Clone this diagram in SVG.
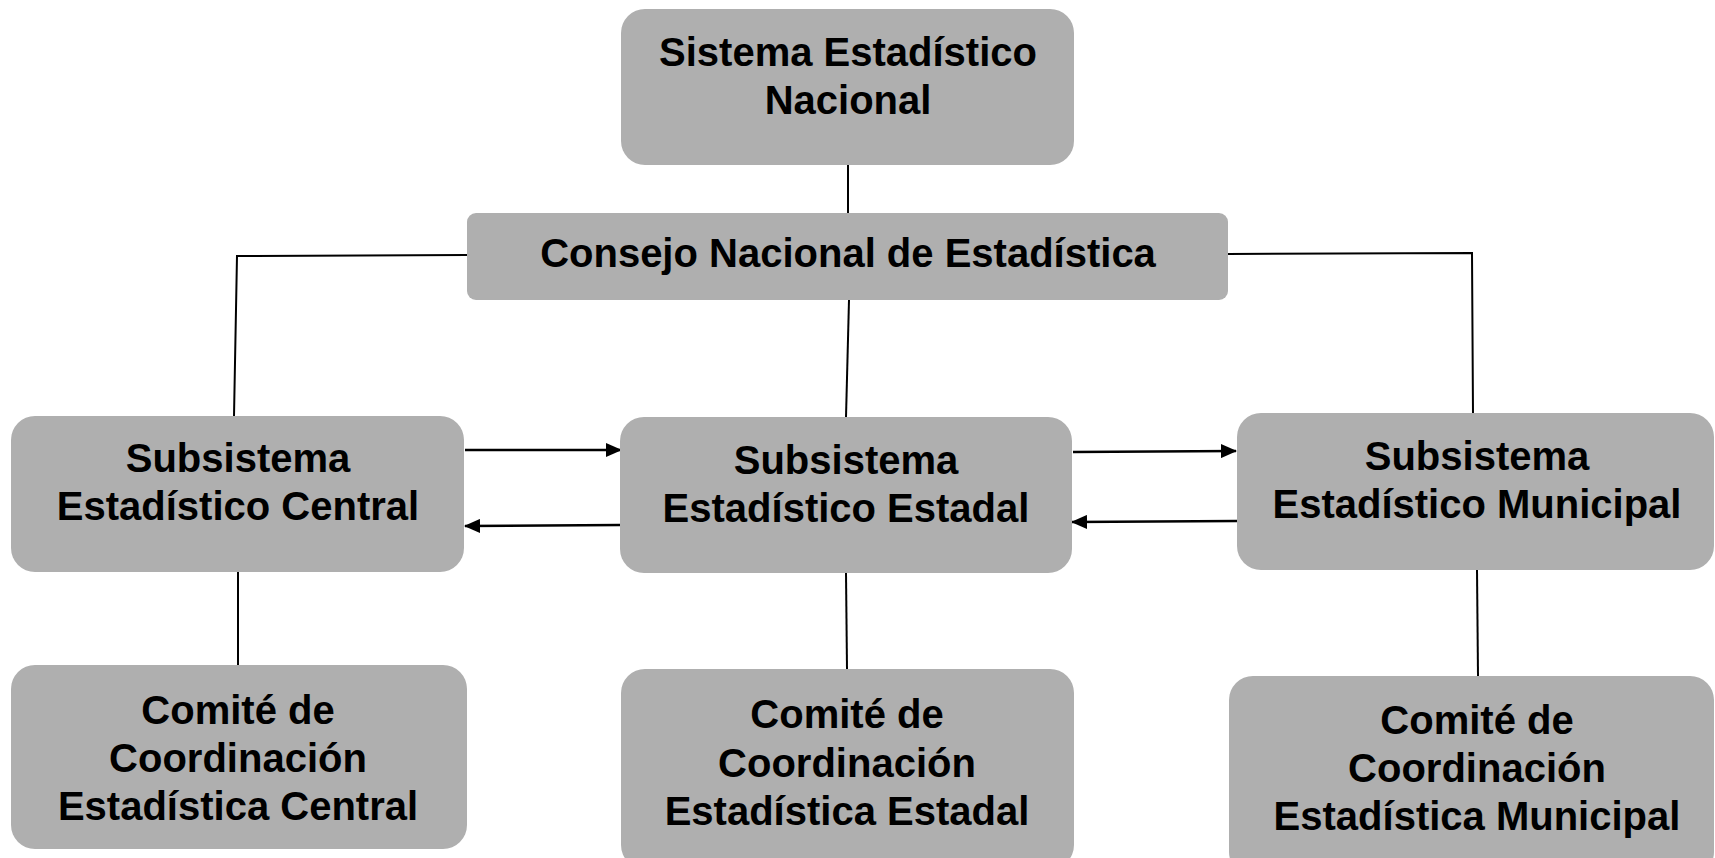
<svg xmlns="http://www.w3.org/2000/svg" width="1715" height="858" viewBox="0 0 1715 858">
<defs>
<marker id="ah" markerWidth="16" markerHeight="14" refX="15" refY="7" orient="auto" markerUnits="userSpaceOnUse">
<path d="M0,0 L16,7 L0,14 Z" fill="#000"/>
</marker>
<style>
.box{fill:#afafaf;}
.t{font-family:"Liberation Sans",Arial,sans-serif;font-weight:bold;font-size:40px;fill:#000;text-anchor:middle;}
.c{stroke:#000;stroke-width:2;fill:none;}
.a{stroke:#000;stroke-width:2.5;fill:none;}
</style>
</defs>
<rect width="1715" height="858" fill="#fff"/>
<g id="connectors">
<line class="c" x1="848" y1="165" x2="848" y2="213"/>
<line class="c" x1="849" y1="300" x2="846" y2="417"/>
<polyline class="c" points="467,255 237,256 234,416"/>
<polyline class="c" points="1228,254 1472,253 1473,413"/>
<line class="c" x1="238" y1="572" x2="238" y2="665"/>
<line class="c" x1="846" y1="573" x2="847" y2="669"/>
<line class="c" x1="1477" y1="570" x2="1478" y2="676"/>
<line class="a" x1="465" y1="450" x2="621" y2="450" marker-end="url(#ah)"/>
<line class="a" x1="620" y1="525" x2="465" y2="526" marker-end="url(#ah)"/>
<line class="a" x1="1073" y1="452" x2="1236" y2="451" marker-end="url(#ah)"/>
<line class="a" x1="1237" y1="521" x2="1072" y2="522" marker-end="url(#ah)"/>
</g>
<g id="sistema">
<rect class="box" x="621" y="9" width="453" height="156" rx="24"/>
<text class="t" x="848" y="66">Sistema Estadístico</text>
<text class="t" x="848" y="114">Nacional</text>
</g>
<g id="consejo">
<rect class="box" x="467" y="213" width="761" height="87" rx="9"/>
<text class="t" x="848" y="267">Consejo Nacional de Estadística</text>
</g>
<g id="sub-central">
<rect class="box" x="11" y="416" width="453" height="156" rx="24"/>
<text class="t" x="238" y="472">Subsistema</text>
<text class="t" x="238" y="520">Estadístico Central</text>
</g>
<g id="sub-estadal">
<rect class="box" x="620" y="417" width="452" height="156" rx="24"/>
<text class="t" x="846" y="474">Subsistema</text>
<text class="t" x="846" y="522">Estadístico Estadal</text>
</g>
<g id="sub-municipal">
<rect class="box" x="1237" y="413" width="477" height="157" rx="24"/>
<text class="t" x="1477" y="470">Subsistema</text>
<text class="t" x="1477" y="518">Estadístico Municipal</text>
</g>
<g id="comite-central">
<rect class="box" x="11" y="665" width="456" height="184" rx="24"/>
<text class="t" x="238" y="724">Comité de</text>
<text class="t" x="238" y="772">Coordinación</text>
<text class="t" x="238" y="820">Estadística Central</text>
</g>
<g id="comite-estadal">
<rect class="box" x="621" y="669" width="453" height="200" rx="24"/>
<text class="t" x="847" y="728">Comité de</text>
<text class="t" x="847" y="777">Coordinación</text>
<text class="t" x="847" y="825">Estadística Estadal</text>
</g>
<g id="comite-municipal">
<rect class="box" x="1229" y="676" width="485" height="200" rx="24"/>
<text class="t" x="1477" y="734">Comité de</text>
<text class="t" x="1477" y="782">Coordinación</text>
<text class="t" x="1477" y="830">Estadística Municipal</text>
</g>
</svg>
